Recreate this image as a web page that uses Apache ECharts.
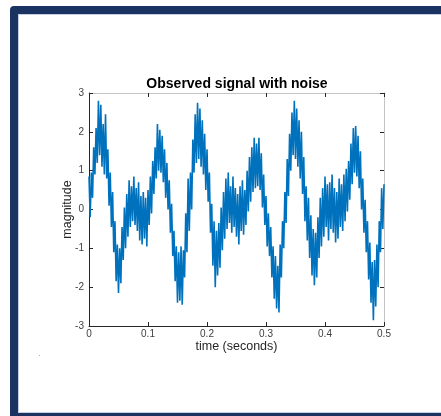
<!DOCTYPE html>
<html>
<head>
<meta charset="utf-8">
<script src="https://cdn.jsdelivr.net/npm/echarts@6/dist/echarts.min.js"></script>
<style>
  html, body { margin: 0; padding: 0; background: #fff; }
  #frame {
    position: absolute; left: 10px; top: 6px;
    width: 440px; height: 399px;
    border: 8px solid #1b3361; border-radius: 4px;
    box-shadow: inset 0 0 0 1px #c3cee2;
  }
  #main { position: absolute; left: 0; top: 0; width: 441px; height: 416px; }
</style>
</head>
<body>
<div id="frame"></div>
<div id="main"></div>
<script>
// sampled signal, 2 ms step
const sampleStep = 0.002;
const signal = [
  0.85, -0.20, 0.95, 0.30, 1.60, 0.90, 2.10, 1.20, 2.80, 1.40,
  2.70, 1.10, 2.20, 0.90, 2.45, 0.80, 1.55, 0.10, 0.95, -0.45,
  0.45, -1.10, -0.30, -1.85, -0.90, -2.15, -1.00, -1.90, -0.45, -1.30,
  0.05, -1.00, 0.40, -0.70, 0.75, -0.45, 0.60, -0.30, 0.85, -0.40,
  0.55, -0.55, 0.70, -0.80, 0.35, -0.90, 0.45, -0.75, 0.30, -0.95,
  0.50, -0.40, 0.85, -0.10, 1.25, 0.40, 1.60, 0.80, 2.20, 1.00,
  2.05, 0.95, 1.90, 0.70, 1.55, 0.30, 1.20, 0.00, 0.75, -0.60,
  0.15, -1.20, -0.55, -1.85, -0.95, -2.40, -1.10, -2.35, -0.95, -2.45,
  -1.05, -1.75, -0.10, -1.10, 0.80, -0.55, 0.95, 0.00, 1.80, 0.95,
  2.45, 1.20, 2.75, 1.30, 2.60, 1.10, 2.30, 0.90, 1.95, 0.50,
  1.55, 0.20, 0.95, -0.60, 0.15, -1.45, -0.30, -2.00, -0.55, -1.70,
  -0.35, -1.50, 0.05, -1.05, 0.45, -0.75, 0.80, -0.50, 0.95, -0.35,
  0.60, -0.60, 0.85, -0.45, 0.55, -0.70, 0.40, -0.90, 0.60, -0.55,
  0.75, -0.65, 0.50, -0.40, 1.00, -0.05, 1.35, 0.20, 1.60, 0.45,
  1.85, 0.55, 1.70, 0.60, 1.85, 0.50, 1.45, 0.05, 0.90, -0.40,
  0.35, -0.95, -0.10, -1.20, -0.45, -1.75, -0.95, -2.30, -1.20, -2.55,
  -1.45, -2.65, -0.90, -1.75, -0.30, -1.00, 0.45, -0.35, 1.30, 0.35,
  1.95, 1.00, 2.50, 1.40, 2.80, 1.30, 2.60, 1.10, 2.30, 0.80,
  2.00, 0.40, 1.35, -0.30, 0.60, -0.80, 0.30, -1.25, -0.15, -1.70,
  -0.50, -1.95, -0.60, -1.75, -0.20, -1.25, 0.30, -0.95, 0.55, -0.70,
  0.85, -0.45, 0.65, -0.80, 0.70, -0.50, 0.90, -0.60, 0.55, -0.85,
  0.45, -0.75, 0.80, -0.45, 0.65, -0.55, 0.90, -0.30, 1.05, -0.05,
  1.25, 0.25, 1.70, 0.65, 2.10, 0.95, 2.15, 0.85, 1.90, 0.55,
  1.50, 0.00, 0.80, -0.60, 0.25, -1.10, -0.30, -1.80, -0.85, -2.40,
  -1.35, -2.85, -1.30, -2.50, -0.90, -2.00, -0.30, -1.10, 0.55, -0.50,
  0.65
];
const xTicks = [0, 0.1, 0.2, 0.3, 0.4, 0.5];
const yTicks = [-3, -2, -1, 0, 1, 2, 3];

const chart = echarts.init(document.getElementById("main"), null, { renderer: "canvas" });

const font = "Liberation Sans, Arial, Helvetica, sans-serif";
const points = signal.map((v, i) => [+(i * sampleStep).toFixed(3), v]);

const boxAxis = {
  type: "value",
  axisLine: { show: true, onZero: false, lineStyle: { color: "#c4c4c4", width: 1 } },
  axisTick: { show: true, inside: true, length: 4, lineStyle: { color: "#262626" } },
  axisLabel: { show: false },
  splitLine: { show: false },
};

chart.setOption({
  animation: false,
  backgroundColor: "transparent",
  title: {
    text: "Observed signal with noise",
    left: 232,
    top: 72,
    textAlign: "center",
    textStyle: { fontFamily: font, fontSize: 14, fontWeight: "bold", color: "#000" },
  },
  grid: { left: 89, right: 57, top: 93, bottom: 90 },
  xAxis: [
    {
      type: "value",
      min: xTicks[0],
      max: xTicks[xTicks.length - 1],
      interval: 0.1,
      name: "time (seconds)",
      nameLocation: "middle",
      nameGap: 14,
      nameMoveOverlap: false,
      nameTextStyle: { fontFamily: font, fontSize: 12.5, color: "#262626" },
      axisLine: { onZero: false, lineStyle: { color: "#262626", width: 1 } },
      axisTick: { inside: true, length: 4, lineStyle: { color: "#262626" } },
      axisLabel: { fontFamily: font, fontSize: 10, color: "#404040", margin: 3 },
      splitLine: { show: false },
    },
    Object.assign({}, boxAxis, { position: "top", min: 0, max: 0.5, interval: 0.1 }),
  ],
  yAxis: [
    {
      type: "value",
      min: yTicks[0],
      max: yTicks[yTicks.length - 1],
      interval: 1,
      name: "magnitude",
      nameLocation: "middle",
      nameRotate: 90,
      nameGap: 15,
      nameMoveOverlap: false,
      nameTextStyle: { fontFamily: font, fontSize: 12.5, color: "#262626" },
      axisLine: { onZero: false, lineStyle: { color: "#262626", width: 1 } },
      axisTick: { inside: true, length: 4, lineStyle: { color: "#262626" } },
      axisLabel: { fontFamily: font, fontSize: 10, color: "#404040", margin: 5 },
      splitLine: { show: false },
    },
    Object.assign({}, boxAxis, { position: "right", min: -3, max: 3, interval: 1 }),
  ],
  series: [
    {
      type: "line",
      data: points,
      showSymbol: false,
      lineStyle: { color: "#0072BD", width: 1.6 },
      itemStyle: { color: "#0072BD" },
    },
  ],
  graphic: [
    { type: "rect", shape: { x: 39, y: 355, width: 1, height: 1 }, style: { fill: "#b0b0b0" } },
  ],
});
</script>
</body>
</html>
